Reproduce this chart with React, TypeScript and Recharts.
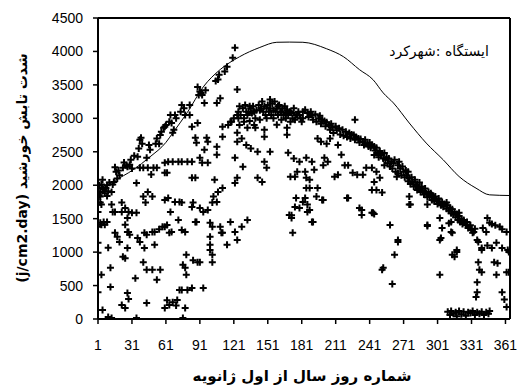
import React from 'react';
import { ComposedChart, Scatter, Line, XAxis, YAxis, ReferenceLine } from 'recharts';

const xTicks = [1, 31, 61, 91, 121, 151, 181, 211, 241, 271, 301, 331, 361];
const yTicks = [0, 500, 1000, 1500, 2000, 2500, 3000, 3500, 4000, 4500];

const curveDays = [1, 15, 32, 47, 61, 67, 80, 94, 109, 126, 144, 159, 170, 182, 203, 218, 232, 244, 253, 262, 276, 291, 306, 320, 335, 347, 365];
const curveValues = [1910, 2060, 2230, 2425, 2640, 2780, 3090, 3470, 3730, 3920, 4060, 4137, 4140, 4137, 4040, 3920, 3728, 3578, 3380, 3230, 2930, 2630, 2380, 2130, 1956, 1856, 1846];

const winterObs: number[][] = [
  [1,1960],[1,1140],[1,990],[1,400],[1,1380],[1,1600],[2,2000],[2,1850],[3,1900],[3,1830],[3,1740],[3,1440],
  [4,2010],[4,1710],[4,1410],[4,660],[5,2080],[5,1950],[5,135],[6,1940],[6,1450],[7,1880],[7,1410],[8,1960],
  [9,2000],[9,1450],[9,1840],[10,1910],[10,1065],[10,30],[11,2040],[12,765],[12,480],[13,1900],[13,1710],[13,15],
  [14,1600],[14,2010],[15,2050],[16,2270],[16,1600],[16,1290],[17,2200],[18,1230],[18,2100],[19,2220],[20,1150],[20,2150],
  [22,1740],[22,1600],[22,210],[23,2260],[23,930],[24,2340],[25,1410],[25,910],[25,165],[25,1660],[26,2300],
  [27,2275],[27,1060],[27,1300],[27,1510],[27,390],[28,1600],[28,300],[28,1300],[29,2305],[29,1260],[30,2380],
  [31,1590],[31,2250],[33,2440],[34,610],[35,2035],[35,1590],[35,15],[36,2425],[36,1210],[37,2550],[38,2680],[38,2260],[38,1150],
  [39,2710],[40,2620],[41,1830],[41,850],[41,2260],[42,1060],[42,1290],[43,1740],[44,2410],[44,1260],[44,240],[44,735],
  [45,2260],[45,1900],[46,2600],[47,2530],[48,2160],[49,1830],[49,1300],[49,735],[50,2260],[51,1110],[51,1300],[52,2620],
  [53,585],[53,2260],[53,2700],[55,2620],[55,1340],[56,735],[56,2750],[57,2800],[58,1380],[59,2860],
  [60,2875],[60,2335],[60,2185],[60,1780],[60,165],[60,1380],[61,2900],[62,2185],[62,1405],[62,280],[63,2350],[63,1810],
  [64,1290],[64,210],[64,2950],[65,1600],[65,3050],[66,1300],[66,2930],[67,2785],[67,2350],[67,250],[68,2830],[69,3050],[69,1750],
  [70,3000],[70,200],[71,285],[72,1480],[72,2350],[73,1750],[73,435],[74,3100],[75,3200],[75,2350],[75,1740],[75,1330],[75,435],
  [76,810],[76,15],[77,3150],[78,3050],[78,1300],[78,765],[78,165],[79,960],[79,660],[80,435],[80,2350],[82,3050],[82,3200],
  [84,2875],[84,2350],[84,2110],[84,1675],[84,465],[85,1740],[85,880],[87,2710],[87,2110],[87,1450],[88,2635],[88,1450],
  [89,3470],[89,2930],[89,850],[90,3350]
];

const springObs: number[][] = [
  [91,3400],[91,2410],[91,1660],[91,850],[92,3380],[93,3350],[93,2335],[94,1600],[94,465],[95,3230],[95,2530],[96,3420],
  [97,2710],[98,2650],[98,2335],[98,1630],[100,1440],[100,1230],[100,1110],[100,1030],[102,1380],[102,960],[102,850],[102,1740],
  [103,1830],[104,2080],[105,3560],[106,3230],[106,2575],[106,2455],[106,1750],[107,3580],[107,1900],[108,3650],[109,3300],[109,1380],
  [110,1290],[111,2875],[111,2725],[111,1960],[111,1290],[113,3700],[115,3770],[115,1110],[116,2900],[118,1450],[118,2950],
  [119,2950],[120,3905],[121,3000],[122,4055],[122,2410],[122,2035],[122,1300],[124,3050],[124,2785],[124,3430],[124,2650],
  [124,2110],[124,1180],[125,3000],[125,3100],[126,2900],[126,3180],[127,3050],[128,1380],[128,2700],[129,2275],[129,3150],
  [130,3000],[130,2950],[131,3200],[132,2600],[132,3100],[133,1480],[133,3050],[133,2860],[134,3100],[135,2960],[135,3180],
  [136,3150],[136,2550],[137,3080],[138,3180],[139,2900],[139,3100],[140,2860],[140,3000],[141,3120],[142,2500],[142,2110],
  [143,3200],[144,2980],[144,3120],[145,3150],[146,3250],[146,2050],[147,3100],[148,2830],[148,2725],[148,2350],[148,3180],
  [149,3050],[150,2260],[150,3000],[150,3150],[151,3200],[152,3100],[153,2500],[153,3150],[153,3280],[154,3050],[155,3220],
  [156,3000],[156,3120],[157,3250],[158,3100],[159,2905],[159,3150],[160,3050],[160,3180],[161,3200],[162,3100],[163,2980],
  [163,3100],[164,3150],[165,3050],[166,3180],[167,3000],[167,3080],[168,2860],[168,2755],[168,3120],[169,2485],[169,3050],
  [170,1555],[170,3100],[171,2125],[171,2950],[171,3100],[172,1550],[172,1510],[172,3080],[173,1290],[173,3000],[174,2400],
  [174,3150],[175,1675],[175,2125],[175,2980],[176,1810],[176,3050],[177,3050],[177,2200],[178,3100],[179,1660],[179,2350],
  [179,3050],[180,3000],[181,2950]
];

const summerObs: number[][] = [
  [182,3100],[182,3000],[182,1750],[184,3130],[184,2200],[184,1810],[185,2410],[185,2110],[185,1960],[186,3080],[186,1710],
  [186,1600],[187,3020],[188,2080],[188,1960],[188,1630],[189,3100],[190,3050],[190,2350],[190,1450],[191,2980],[191,1450],
  [192,2230],[193,3060],[194,2950],[194,1830],[195,2700],[195,1960],[196,3000],[197,3040],[198,2920],[198,2650],[199,2980],
  [199,1780],[200,2300],[200,1780],[201,2960],[201,2410],[202,2880],[203,2940],[203,2620],[204,2350],[205,2900],[206,2830],
  [206,2700],[207,2920],[208,2860],[209,2780],[210,2125],[211,2880],[212,2820],[213,2600],[213,2155],[214,2850],[215,2760],
  [216,2455],[217,2830],[218,2740],[219,2300],[220,2800],[221,2720],[221,1810],[222,2300],[222,1810],[223,2780],[224,2700],
  [225,2760],[226,2185],[227,2750],[228,2980],[228,2680],[229,2720],[230,2155],[231,2700],[232,2640],[232,1660],[233,2690],
  [234,1630],[234,1555],[235,2650],[235,2155],[236,2600],[237,2680],[238,2260],[239,2620],[240,2580],[241,2640],[242,2560],
  [243,2600],[243,2260],[243,1930],[243,1590],[244,1590],[245,2580],[245,2450],[245,2050],[245,1570],[246,2520],[247,2560],
  [247,2200],[247,1930],[248,2480],[249,2420],[250,2510],[250,2110],[251,2450],[252,1890],[252,735],[253,2400],[253,765],
  [254,2480],[254,2300],[255,2380],[256,2420],[257,2330],[258,2400],[259,2280],[259,1405],[260,2350],[261,2250],[261,525],
  [262,2330],[263,2380],[263,960],[264,2200],[265,2125],[266,2300],[266,2180],[266,1150],[266,1180],[267,2350],[268,2250],
  [269,2150],[270,2280],[271,2200],[272,2120]
];

const autumnObs: number[][] = [
  [273,2220],[274,2150],[275,2200],[275,2060],[276,2100],[276,1830],[276,1710],[277,2020],[277,1710],[278,2120],[279,2050],
  [280,1980],[281,2080],[282,2000],[283,2010],[283,1930],[284,1960],[285,2040],[286,1900],[287,1980],[288,1920],[289,1860],
  [290,1950],[291,1880],[292,1820],[292,1710],[292,1390],[292,1405],[293,1900],[294,1840],[295,1880],[296,1850],[296,1780],
  [297,1820],[298,1760],[299,1830],[300,1780],[301,1720],[302,1800],[303,1740],[303,1510],[303,1180],[303,660],[304,1700],
  [304,1210],[305,1750],[305,1360],[306,1680],[307,1720],[309,1740],[309,1650],[310,1700],[311,1620],[311,1430],[312,1660],
  [313,1580],[313,1450],[313,1300],[314,1640],[314,1290],[314,960],[315,1560],[316,1600],[316,930],[317,1520],[318,1570],
  [318,1000],[318,1030],[319,1480],[320,1540],[320,1590],[321,1450],[322,1500],[323,1420],[324,1470],[324,1480],[326,1400],
  [327,1450],[328,1360],[329,1380],[330,1400],[331,1330],[332,1290],[333,1300],[334,1350],[336,1180],[337,1150],[340,1060],
  [340,1030],[337,850],[338,735],[340,700],[336,550],[336,400],[335,330],[341,1360],[344,1300],[345,1510],[347,1440],
  [349,1420],[352,1400],[356,1380],[358,1340],[362,1300],[345,1100],[349,1060],[353,1140],[358,1060],[364,1000],[351,850],
  [354,835],[353,660],[362,700],[358,400],[360,290],[362,180],[363,1030],[364,700],
  [310,110],[312,60],[313,120],[315,80],[317,100],[318,40],[320,120],[322,70],[324,110],[326,50],[328,100],[330,90],
  [332,120],[334,60],[336,100],[338,80],[340,110],[342,60],[344,100],[346,80],[347,120]
];

const curveData = curveDays.map((d, i) => ({ day: d, clear: curveValues[i] }));
const obsData = [...winterObs, ...springObs, ...summerObs, ...autumnObs].map(([d, v]) => ({ day: d, rad: v }));

const Plus = (props: any) => {
  const { cx, cy } = props;
  if (cx == null || cy == null) return null;
  return (
    <path
      d={`M${cx - 3.5},${cy}H${cx + 3.5}M${cx},${cy - 3.5}V${cy + 3.5}`}
      stroke="#000"
      strokeWidth={2}
      fill="none"
    />
  );
};

const tickFont = { fontSize: 14, fill: '#000', fontFamily: 'Liberation Sans, Arial, sans-serif' };

export default function App() {
  return (
    <div style={{ position: 'absolute', left: 0, top: 0, width: 521, height: 387, background: '#fff' }}>
      <ComposedChart width={521} height={387} margin={{ top: 18, right: 11, bottom: 28, left: 0 }}>
        <XAxis
          dataKey="day"
          type="number"
          domain={[1, 365]}
          ticks={xTicks}
          interval={0}
          height={40}
          tickSize={5}
          tickMargin={16}
          tick={tickFont}
          axisLine={{ stroke: '#000', strokeWidth: 2 }}
          tickLine={{ stroke: '#000', strokeWidth: 1.5 }}
          allowDataOverflow
        />
        <YAxis
          type="number"
          domain={[0, 4500]}
          ticks={yTicks}
          interval={0}
          width={98}
          tickSize={5}
          tickMargin={10}
          tick={tickFont}
          axisLine={{ stroke: '#000', strokeWidth: 2 }}
          tickLine={{ stroke: '#000', strokeWidth: 1.5 }}
          allowDataOverflow
        />
        <ReferenceLine y={4500} stroke="#000" strokeWidth={2} ifOverflow="visible" />
        <ReferenceLine x={365} stroke="#000" strokeWidth={2} ifOverflow="visible" />
        <Scatter data={obsData} dataKey="rad" shape={<Plus />} isAnimationActive={false} />
        <Line
          data={curveData}
          dataKey="clear"
          type="monotone"
          stroke="#000"
          strokeWidth={1}
          dot={false}
          activeDot={false}
          isAnimationActive={false}
        />
      </ComposedChart>
      <div
        style={{
          position: 'absolute', left: 22, top: 168, transform: 'translate(-50%, -50%) rotate(-90deg)',
          whiteSpace: 'nowrap', fontFamily: 'DejaVu Sans, sans-serif', fontWeight: 'bold', fontSize: 14,
          color: '#000', direction: 'rtl',
        }}
      >
        شدت تابش خورشید (j/cm2.day)
      </div>
      <div
        style={{
          position: 'absolute', left: 302, top: 376, transform: 'translate(-50%, -50%)',
          whiteSpace: 'nowrap', fontFamily: 'DejaVu Sans, sans-serif', fontWeight: 'bold', fontSize: 15, color: '#000', direction: 'rtl',
        }}
      >
        شماره روز سال از اول ژانویه
      </div>
      <div
        style={{
          position: 'absolute', left: 439, top: 51, transform: 'translate(-50%, -50%)',
          whiteSpace: 'nowrap', fontFamily: 'DejaVu Sans, sans-serif', fontSize: 14, color: '#000', direction: 'rtl',
        }}
      >
        ایستگاه :شهرکرد
      </div>
    </div>
  );
}
